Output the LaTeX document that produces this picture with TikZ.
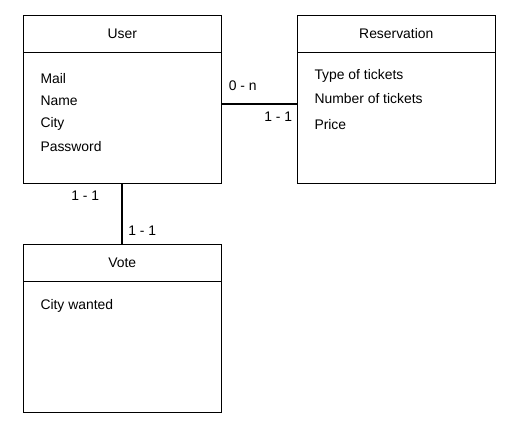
\documentclass[tikz,border=0pt]{standalone}
\usepackage{fontspec}
\setmainfont{Liberation Sans}
\begin{document}
\begin{tikzpicture}[x=1pt,y=-1pt,
  entity/.style={draw,line width=1pt,minimum width=198pt,minimum height=168pt,anchor=north west,inner sep=0pt},
  attr/.style={anchor=base west,inner sep=0pt,font=\fontsize{13.9}{16}\selectfont},
  ttl/.style={anchor=base,inner sep=0pt,font=\fontsize{13.9}{16}\selectfont},
  card/.style={anchor=base,inner sep=0pt,font=\fontsize{13.9}{16}\selectfont},
  link/.style={line width=2pt}]
\useasboundingbox (0,0) rectangle (516,436);
% User
\node[entity] (user) at (23.3,15.3) {};
\coordinate (uhl) at (23.3,52.3); \coordinate (uhr) at (221.3,52.3);
\draw[line width=1pt] (uhl) -- (uhr);
\node[ttl] (usert) at (122.3,38.3) {User};
\node[attr] (mail) at (40.3,83.3) {Mail};
\node[attr] (name) at (40.3,105.5) {Name};
\node[attr] (city) at (40.3,127.5) {City};
\node[attr] (pass) at (40.3,151.3) {Password};
% Reservation
\node[entity] (res) at (297.3,15.3) {};
\coordinate (rhl) at (297.3,52.3); \coordinate (rhr) at (495.3,52.3);
\draw[line width=1pt] (rhl) -- (rhr);
\node[ttl] (rest) at (396.3,38.3) {Reservation};
\node[attr] (type) at (314.3,79) {Type of tickets};
\node[attr] (num) at (314.3,103) {Number of tickets};
\node[attr] (price) at (314.3,129) {Price};
% Vote
\node[entity] (vote) at (23.3,244.3) {};
\coordinate (vhl) at (23.3,281.3); \coordinate (vhr) at (221.3,281.3);
\draw[line width=1pt] (vhl) -- (vhr);
\node[ttl] (votet) at (122.3,267.3) {Vote};
\node[attr] (cw) at (40.3,309.3) {City wanted};
% connectors
\draw[link] (user.east |- 0,103.7) -- (res.west |- 0,103.7);
\draw[link] (122,183.3) -- (122,244.3);
% cardinalities
\node[card] (c1) at (242.7,90) {0 - n};
\node[card] (c2) at (278.3,121.3) {1 - 1};
\node[card] (c3) at (85.3,200) {1 - 1};
\node[card] (c4) at (142.3,235) {1 - 1};
\end{tikzpicture}
\end{document}
